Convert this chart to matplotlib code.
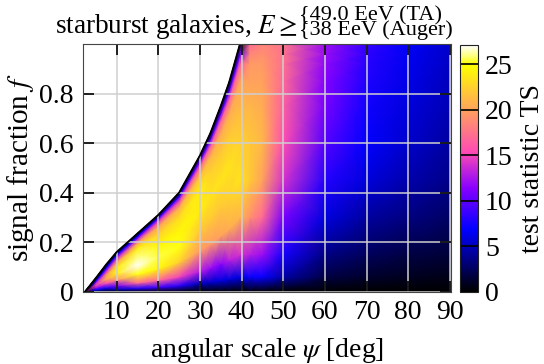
import numpy as np
import matplotlib
matplotlib.use('Agg')
import matplotlib.pyplot as plt

plt.rcParams['font.family'] = 'Liberation Serif'
plt.rcParams['mathtext.fontset'] = 'stix'

# angular scale columns (deg) and the upper edge of the allowed region
psi = [2.4, 5, 7.5, 10, 15, 20, 25, 30, 32.5, 35, 37, 39.6, 42, 45, 50, 60, 70, 80, 90]
f_max = [0.0, 0.055, 0.11, 0.16, 0.235, 0.31, 0.40, 0.55, 0.64, 0.75, 0.845, 1.0,
         1, 1, 1, 1, 1, 1, 1]
n_edge = 12  # columns that lie on the black edge

# relative height inside each column (f = rel * f_max)
rel = [0, 0.06, 0.15, 0.3, 0.45, 0.6, 0.75, 0.85, 0.92, 0.96, 1.0]

# test statistic, one list per psi column (bottom -> top)
ts_cols = [
    [0, 0, 0, 0, 0, 0, 0, 0, 0, 0, 0],
    [0, 3, 7, 12, 14.5, 14, 10, 6, 3.5, 1.5, 0],
    [0, 3, 8, 15, 20, 20, 14, 9.5, 5.5, 2.7, 0],
    [0, 5, 11, 19, 24, 24, 19.5, 13.5, 8.5, 4.5, 0],
    [0, 8, 17, 25, 27, 26, 24, 19, 12, 6.5, 0],
    [0, 9, 17, 24.5, 25.5, 24.5, 22.5, 20, 14.5, 8.5, 0],
    [0, 8, 15, 22.5, 25, 24.5, 23, 20.5, 14.5, 8.5, 0],
    [0, 5, 13, 19.5, 22, 24, 24, 21.5, 16.5, 10, 0],
    [0, 5.5, 12, 19.5, 22, 23.5, 22.5, 21, 16, 9.5, 0],
    [0, 6, 11.5, 20, 22, 23.5, 22, 20.5, 16.5, 10, 0],
    [0, 6, 13, 20.5, 22.5, 23.5, 22, 20.5, 16, 9.5, 0],
    [0, 6, 14, 21, 23.5, 22.5, 21, 20, 16.5, 10, 0],
    [0, 7, 13, 19, 22, 22, 21, 20, 19.5, 18.5, 17],
    [0, 7, 12, 17, 20, 21, 20.5, 20, 19.5, 19, 18.5],
    [0, 4.5, 7.5, 11, 14, 15.5, 16.5, 17, 17.3, 17.5, 17.5],
    [0, 1.8, 3.5, 6, 8, 9.7, 10.8, 11.3, 11.7, 12, 12],
    [0, 1.2, 2.5, 4.3, 5.9, 6.8, 7.4, 7.8, 8.1, 8.3, 8.5],
    [0, 0.9, 1.9, 3.4, 4.6, 5.4, 5.9, 6.2, 6.4, 6.5, 6.6],
    [0, 0.7, 1.5, 2.7, 3.6, 4.3, 4.8, 5.0, 5.2, 5.3, 5.4],
]

cbar_ticks = [0, 5, 10, 15, 20, 25]

# build the curved grid
X = np.array(psi)[None, :] * np.ones(len(rel))[:, None]
Y = np.array(rel)[:, None] * np.array(f_max)[None, :]
TS = np.array(ts_cols).T

fig = plt.figure(figsize=(5.44, 3.64), dpi=100)
ax = fig.add_axes([83.3 / 544, (364 - 291.7) / 364, 367.4 / 544, 247.7 / 364])
cax = fig.add_axes([460 / 544, (364 - 291.7) / 364, 18 / 544, 246.7 / 364])

mesh = ax.pcolormesh(X, Y, TS, shading='gouraud', cmap='gnuplot2', vmin=0, vmax=27.1)
ax.plot(psi[:n_edge], f_max[:n_edge], color='k', lw=1.3)

ax.set_xlim(2, 90.2)
ax.set_ylim(0, 1)
ax.set_xticks([10, 20, 30, 40, 50, 60, 70, 80, 90])
ax.set_yticks([0, 0.2, 0.4, 0.6, 0.8])
ax.set_yticklabels(['0', '0.2', '0.4', '0.6', '0.8'])
ax.grid(True, color='#cfcfcf', lw=1.1)
ax.tick_params(direction='in', length=8, width=1.2, top=True, right=True, labelsize=20)
ax.tick_params(axis='x', pad=6)
ax.tick_params(axis='y', pad=7)
for s in ax.spines.values():
    s.set_color('#444444')

ax.set_xlabel(r'angular scale $\psi$ [deg]', fontsize=20, labelpad=8)
ax.set_ylabel(r'signal fraction $f$', fontsize=21, labelpad=2)

cb = fig.colorbar(mesh, cax=cax, ticks=cbar_ticks)
cb.ax.tick_params(direction='in', length=13, width=1.2, labelsize=20, pad=5)
cb.outline.set_color('#222222')
cb.set_label('test statistic TS', fontsize=20, labelpad=5)

# title with stacked energy thresholds
fig.text(55 / 544, 1 - 33 / 364, r'starburst galaxies, $E \geq$', fontsize=19.5,
         va='baseline', ha='left')
fig.text(299 / 544, 1 - 20 / 364, '{49.0 EeV (TA)', fontsize=16, va='baseline', ha='left')
fig.text(299 / 544, 1 - 35 / 364, '{38 EeV (Auger)', fontsize=16, va='baseline', ha='left')

fig.savefig('out.png', dpi=100)
